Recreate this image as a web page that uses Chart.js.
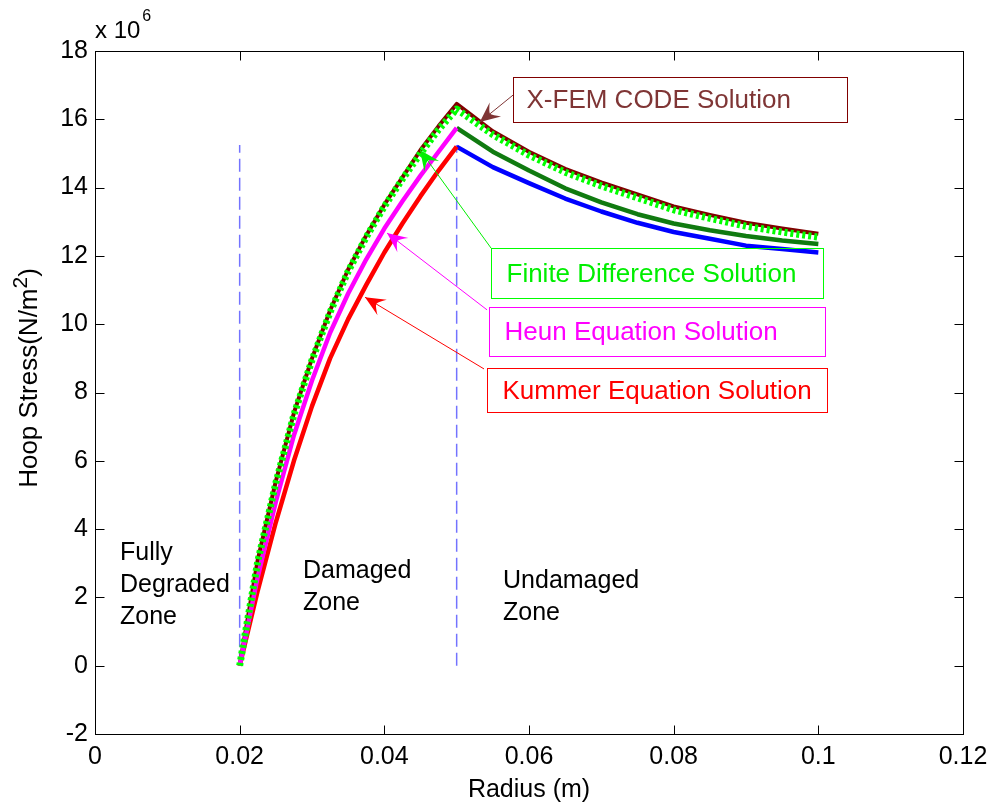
<!DOCTYPE html>
<html>
<head>
<meta charset="utf-8">
<script src="https://cdn.jsdelivr.net/npm/chart.js@4.4.1/dist/chart.umd.min.js"></script>
<style>
  html, body { margin: 0; padding: 0; background: #fff; }
  #wrap { width: 999px; height: 807px; }
</style>
</head>
<body>
<div id="wrap"><canvas id="hoop"></canvas></div>
<script>
// radius (m)
const radiusDamaged = [0.02, 0.0225, 0.025, 0.0275, 0.03, 0.0325, 0.035, 0.0375, 0.04, 0.0425, 0.045, 0.0475, 0.05];
const radiusUndamaged = [0.05, 0.055, 0.06, 0.065, 0.07, 0.075, 0.08, 0.085, 0.09, 0.095, 0.1];

// hoop stress in units of 10^6 N/m^2
const xfemDamaged = [0, 3.1, 5.4, 7.4, 9.0, 10.4, 11.6, 12.6, 13.5, 14.3, 15.1, 15.8, 16.45];
const xfemUndamaged = [16.45, 15.65, 15.05, 14.55, 14.15, 13.8, 13.45, 13.2, 12.97, 12.8, 12.65];
const fdDamaged = [0, 3.05, 5.35, 7.35, 8.95, 10.35, 11.55, 12.55, 13.45, 14.25, 15.0, 15.7, 16.3];
const fdUndamaged = [16.3, 15.55, 14.95, 14.45, 14.05, 13.7, 13.35, 13.1, 12.87, 12.7, 12.55];
const heunDamaged = [0, 2.6, 4.8, 6.75, 8.35, 9.75, 10.9, 11.9, 12.8, 13.6, 14.35, 15.05, 15.75];
const heunUndamaged = [15.75, 15.05, 14.5, 13.98, 13.57, 13.22, 12.95, 12.75, 12.58, 12.45, 12.35];
const kummerDamaged = [0, 2.2, 4.2, 6.0, 7.6, 9.0, 10.15, 11.15, 12.1, 12.95, 13.75, 14.5, 15.2];
const kummerUndamaged = [15.2, 14.6, 14.13, 13.68, 13.3, 12.97, 12.7, 12.5, 12.3, 12.2, 12.1];

// zone boundaries (dashed verticals)
const zoneBounds = [0.02, 0.05];
const zoneBoundStress = [0, 15.25];

const xTickValues = [0, 0.02, 0.04, 0.06, 0.08, 0.1, 0.12];
const yTickValues = [-2, 0, 2, 4, 6, 8, 10, 12, 14, 16, 18];

const zoneNames = [['Fully', 'Degraded', 'Zone'], ['Damaged', 'Zone'], ['Undamaged', 'Zone']];
const calloutTexts = ['X-FEM CODE Solution', 'Finite Difference Solution', 'Heun Equation Solution', 'Kummer Equation Solution'];

const FONT = '"Liberation Sans", Arial, Helvetica, sans-serif';

function pts(xs, ys) {
  return xs.map((x, i) => ({ x: x, y: ys[i] }));
}

// where the zone names and callout boxes sit, in axis units
const zoneSpots = [[0.00346, 3.3], [0.02876, 2.77], [0.05641, 2.48]];
const calloutSpots = [
  { box: [0.0578, 17.24, 0.104, 15.92], from: [0.0578, 16.71], tip: [0.0532, 15.92], text: '#7f3535', edge: '#800000', pad: 13 },
  { box: [0.05475, 12.23, 0.1007, 10.76], from: [0.05475, 12.23], tip: [0.04493, 15.1], text: '#00ee00', edge: '#00ff00', pad: 15 },
  { box: [0.0545, 10.51, 0.1009, 9.07], from: [0.0542, 10.42], tip: [0.04037, 12.67], text: '#ff00ff', edge: '#ff00ff', pad: 15 },
  { box: [0.0542, 8.72, 0.1012, 7.43], from: [0.05378, 8.69], tip: [0.03733, 10.79], text: '#ff0000', edge: '#ff0000', pad: 15 }
];

function arrowTo(ctx, x0, y0, x1, y1, color) {
  ctx.strokeStyle = color;
  ctx.lineWidth = 1;
  ctx.beginPath();
  ctx.moveTo(x0, y0);
  ctx.lineTo(x1, y1);
  ctx.stroke();
  const ang = Math.atan2(y1 - y0, x1 - x0);
  ctx.save();
  ctx.translate(x1, y1);
  ctx.rotate(ang);
  ctx.fillStyle = color;
  ctx.beginPath();
  ctx.moveTo(0, 0);
  ctx.lineTo(-20, -9);
  ctx.quadraticCurveTo(-14, -3, -13, 0);
  ctx.quadraticCurveTo(-14, 3, -20, 9);
  ctx.closePath();
  ctx.fill();
  ctx.restore();
}

const matlabAxes = {
  id: 'matlabAxes',
  afterDatasetsDraw(chart) {
    const { ctx, chartArea: a, scales: { x, y } } = chart;
    ctx.save();

    // zone names
    ctx.fillStyle = '#000';
    ctx.font = '25px ' + FONT;
    ctx.textAlign = 'left';
    ctx.textBaseline = 'middle';
    zoneNames.forEach((lines, i) => {
      const px = x.getPixelForValue(zoneSpots[i][0]);
      const py = y.getPixelForValue(zoneSpots[i][1]);
      lines.forEach((t, k) => ctx.fillText(t, px, py + k * 32));
    });

    // callouts
    calloutSpots.forEach((c, i) => {
      const l = Math.round(x.getPixelForValue(c.box[0])) + 0.5;
      const t = Math.round(y.getPixelForValue(c.box[1])) + 0.5;
      const r = Math.round(x.getPixelForValue(c.box[2])) + 0.5;
      const b = Math.round(y.getPixelForValue(c.box[3])) + 0.5;
      ctx.strokeStyle = c.edge;
      ctx.lineWidth = 1;
      ctx.strokeRect(l, t, r - l, b - t);
      ctx.fillStyle = c.text;
      ctx.font = '26px ' + FONT;
      ctx.textBaseline = 'middle';
      ctx.fillText(calloutTexts[i], l + c.pad, (t + b) / 2 + 1);
      arrowTo(ctx, x.getPixelForValue(c.from[0]), y.getPixelForValue(c.from[1]),
        x.getPixelForValue(c.tip[0]), y.getPixelForValue(c.tip[1]), c.text);
    });

    // box with inward ticks
    const L = Math.round(a.left) + 0.5, R = Math.round(a.right) + 0.5;
    const T = Math.round(a.top) + 0.5, B = Math.round(a.bottom) + 0.5;
    ctx.strokeStyle = '#000';
    ctx.lineWidth = 1;
    ctx.strokeRect(L, T, R - L, B - T);
    ctx.beginPath();
    xTickValues.forEach(v => {
      const px = Math.round(x.getPixelForValue(v)) + 0.5;
      ctx.moveTo(px, B); ctx.lineTo(px, B - 9);
      ctx.moveTo(px, T); ctx.lineTo(px, T + 9);
    });
    yTickValues.forEach(v => {
      const py = Math.round(y.getPixelForValue(v)) + 0.5;
      ctx.moveTo(L, py); ctx.lineTo(L + 9, py);
      ctx.moveTo(R, py); ctx.lineTo(R - 9, py);
    });
    ctx.stroke();

    // y axis title with superscript
    ctx.fillStyle = '#000';
    ctx.save();
    ctx.translate(37, 378);
    ctx.rotate(-Math.PI / 2);
    ctx.textBaseline = 'alphabetic';
    ctx.font = '26px ' + FONT;
    const main = 'Hoop Stress(N/m';
    const wMain = ctx.measureText(main).width;
    ctx.font = '21px ' + FONT;
    const wSup = ctx.measureText('2').width;
    ctx.font = '26px ' + FONT;
    const wClose = ctx.measureText(')').width;
    let sx = -(wMain + wSup + wClose) / 2;
    ctx.fillText(main, sx, 0);
    sx += wMain;
    ctx.font = '21px ' + FONT;
    ctx.fillText('2', sx, -10);
    sx += wSup;
    ctx.font = '26px ' + FONT;
    ctx.fillText(')', sx, 0);
    ctx.restore();

    // exponent above the y axis
    ctx.textAlign = 'left';
    ctx.textBaseline = 'alphabetic';
    ctx.font = '24px ' + FONT;
    ctx.fillText('x 10', 95, 38);
    const w10 = ctx.measureText('x 10').width;
    ctx.font = '16px ' + FONT;
    ctx.fillText('6', 95 + w10 + 2, 21);

    ctx.restore();
  }
};

const lineStyle = { tension: 0, pointRadius: 0, fill: false, borderJoinStyle: 'round' };

new Chart(document.getElementById('hoop'), {
  type: 'line',
  data: {
    datasets: [
      Object.assign({ label: 'boundary 1', data: pts([zoneBounds[0], zoneBounds[0]], zoneBoundStress),
        borderColor: '#7373ff', borderWidth: 1.5, borderDash: [13, 6], order: 10 }, lineStyle),
      Object.assign({ label: 'boundary 2', data: pts([zoneBounds[1], zoneBounds[1]], zoneBoundStress),
        borderColor: '#7373ff', borderWidth: 1.5, borderDash: [13, 6], order: 10 }, lineStyle),
      Object.assign({ label: 'X-FEM CODE', data: pts(radiusDamaged.concat(radiusUndamaged.slice(1)), xfemDamaged.concat(xfemUndamaged.slice(1))),
        borderColor: '#800000', borderWidth: 4, order: 7 }, lineStyle),
      Object.assign({ label: 'Heun (undamaged)', data: pts(radiusUndamaged, heunUndamaged),
        borderColor: '#107a10', borderWidth: 4.5, order: 6 }, lineStyle),
      Object.assign({ label: 'Kummer (undamaged)', data: pts(radiusUndamaged, kummerUndamaged),
        borderColor: '#0000ff', borderWidth: 4.5, order: 5 }, lineStyle),
      Object.assign({ label: 'Kummer', data: pts(radiusDamaged, kummerDamaged),
        borderColor: '#ff0000', borderWidth: 4.5, order: 4 }, lineStyle),
      Object.assign({ label: 'Heun', data: pts(radiusDamaged, heunDamaged),
        borderColor: '#ff00ff', borderWidth: 4.5, order: 3 }, lineStyle),
      Object.assign({ label: 'Finite Difference', data: pts(radiusDamaged.concat(radiusUndamaged.slice(1)), fdDamaged.concat(fdUndamaged.slice(1))),
        borderColor: '#00ff00', borderWidth: 7, borderDash: [3, 3], order: 1 }, lineStyle)
    ]
  },
  options: {
    responsive: true,
    maintainAspectRatio: false,
    animation: false,
    devicePixelRatio: 1,
    layout: { padding: { top: 51, right: 36, left: 0, bottom: 0 } },
    plugins: { legend: { display: false }, tooltip: { enabled: false } },
    scales: {
      x: {
        type: 'linear',
        min: 0, max: 0.12,
        afterFit: s => { s.height = 73; },
        afterBuildTicks: s => { s.ticks = xTickValues.map(v => ({ value: v })); },
        grid: { display: false, drawTicks: false },
        border: { display: false },
        ticks: {
          padding: 8,
          color: '#000',
          font: { family: FONT, size: 25 },
          callback: v => String(Number(v.toFixed(2)))
        },
        title: {
          display: true,
          text: 'Radius (m)',
          color: '#000',
          font: { family: FONT, size: 25 },
          padding: { top: 0, bottom: 2 }
        }
      },
      y: {
        type: 'linear',
        min: -2, max: 18,
        afterFit: s => { s.width = 95; },
        afterBuildTicks: s => { s.ticks = yTickValues.map(v => ({ value: v })); },
        grid: { display: false, drawTicks: false },
        border: { display: false },
        ticks: {
          padding: 7,
          color: '#000',
          font: { family: FONT, size: 25 },
          callback: v => String(v)
        }
      }
    }
  },
  plugins: [matlabAxes]
});
</script>
</body>
</html>
